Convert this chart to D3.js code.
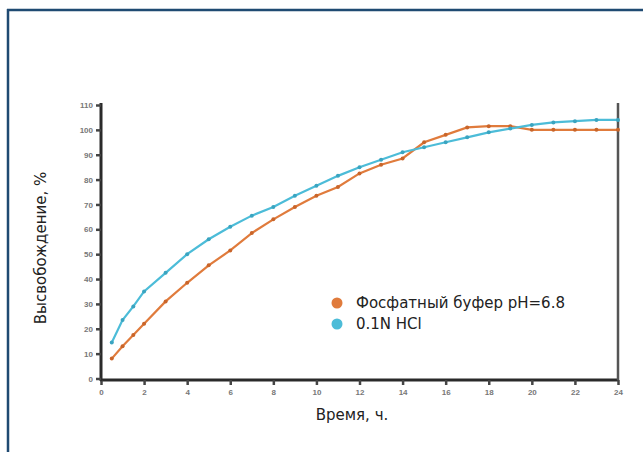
<!DOCTYPE html>
<meta charset="utf-8">
<style>
body { margin: 0; background: #fff; }
.tick text { font: bold 8px "Liberation Sans", Arial, sans-serif; fill: #777; }
.title { font: 15px "DejaVu Sans", sans-serif; fill: #222; }
.legend text { font: 15px "DejaVu Sans", sans-serif; fill: #222; }
</style>
<svg width="643" height="452"></svg>
<script src="https://d3js.org/d3.v7.min.js"></script>
<script>

var hours = [0.5, 1, 1.5, 2, 3, 4, 5, 6, 7, 8, 9, 10, 11, 12, 13, 14, 15, 16, 17, 18, 19, 20, 21, 22, 23, 24];
var phosphate = [8, 13, 17.5, 22, 31, 38.5, 45.5, 51.5, 58.5, 64, 69, 73.5, 77, 82.5, 86, 88.5, 95, 98, 101, 101.5, 101.5, 100, 100, 100, 100, 100];
var hcl = [14.5, 23.5, 29, 35, 42.5, 50, 56, 61, 65.5, 69, 73.5, 77.5, 81.5, 85, 88, 91, 93, 95, 97, 99, 100.5, 102, 103, 103.5, 104, 104];
var seriesNames = ["Фосфатный буфер pH=6.8", "0.1N HCl"];
var xTicks = d3.range(0, 25, 2);
var yTicks = d3.range(0, 111, 10);

var svg = d3.select("svg");

// frame
svg.append("line").attr("x1", 8).attr("x2", 8).attr("y1", 9).attr("y2", 452)
    .attr("stroke", "#1f4a72").attr("stroke-width", 2.5);
svg.append("line").attr("x1", 7).attr("x2", 643).attr("y1", 10).attr("y2", 10)
    .attr("stroke", "#1f4a72").attr("stroke-width", 2.5);

var x = d3.scaleLinear().domain([0, 24]).range([101, 618]);
var y = d3.scaleLinear().domain([0, 110]).range([378.5, 105]);

var xAxis = svg.append("g").attr("transform", "translate(0,380)")
    .call(d3.axisBottom(x).tickValues(xTicks).tickSize(5).tickPadding(4));
var yAxis = svg.append("g").attr("transform", "translate(101,0)")
    .call(d3.axisLeft(y).tickValues(yTicks).tickSize(5).tickPadding(3));
[xAxis, yAxis].forEach(function(a) {
  a.select(".domain").attr("stroke", "#2a2a2a").attr("stroke-width", 3);
  a.selectAll(".tick line").attr("stroke", "#444").attr("stroke-width", 2.5);
});
yAxis.select(".domain").attr("d", "M0,103V381");
xAxis.select(".domain").attr("d", "M100,0H619");

// right border line
svg.append("line").attr("x1", 618).attr("x2", 618).attr("y1", 103).attr("y2", 380)
    .attr("stroke", "#555").attr("stroke-width", 2.5);

var color = d3.scaleOrdinal(seriesNames, ["#e07b3c", "#4cbcd8"]);
var dark = d3.scaleOrdinal(seriesNames, ["#c9652a", "#3aa4c0"]);

var line = d3.line().x(function(d) { return x(d[0]); }).y(function(d) { return y(d[1]); });

[phosphate, hcl].forEach(function(vals, i) {
  var pts = hours.map(function(h, j) { return [h, vals[j]]; });
  svg.append("path").datum(pts)
      .attr("fill", "none")
      .attr("stroke", color(seriesNames[i]))
      .attr("stroke-width", 2.2)
      .attr("d", line);
  svg.append("g").selectAll("circle").data(pts).enter().append("circle")
      .attr("cx", function(d) { return x(d[0]); })
      .attr("cy", function(d) { return y(d[1]); })
      .attr("r", 2)
      .attr("fill", dark(seriesNames[i]));
});

// axis titles
svg.append("text").attr("class", "title").attr("x", 352).attr("y", 420)
    .attr("text-anchor", "middle").text("Время, ч.");
svg.append("text").attr("class", "title")
    .attr("transform", "translate(46,248) rotate(-90)")
    .attr("text-anchor", "middle").text("Высвобождение, %");

// legend
var legend = svg.append("g").attr("class", "legend").selectAll("g").data(seriesNames).enter().append("g")
    .attr("transform", function(d, i) { return "translate(337," + (303 + i * 21) + ")"; });
legend.append("circle").attr("r", 5.5).attr("fill", function(d) { return color(d); });
legend.append("text").attr("x", 19).attr("dy", "0.35em")
    .text(function(d) { return d; });

</script>
